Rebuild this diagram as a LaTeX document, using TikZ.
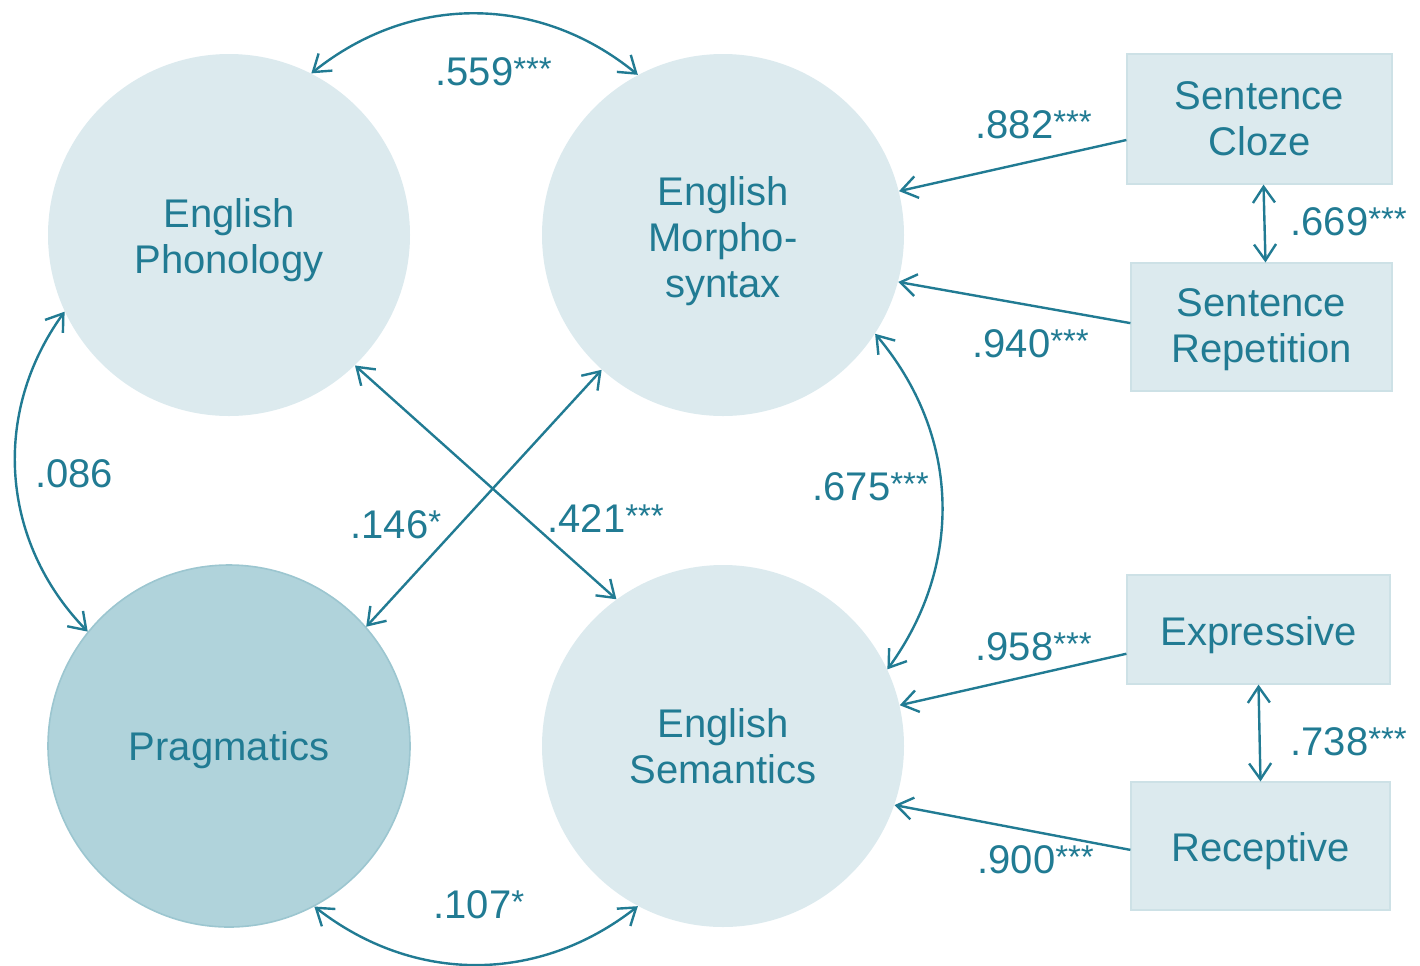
\documentclass[tikz,border=0pt]{standalone}
\usepackage{fontspec}
\setmainfont{Liberation Sans}
\usetikzlibrary{arrows.meta,calc}
\definecolor{tealtxt}{HTML}{217B93}
\definecolor{lightc}{HTML}{DCEAEE}
\definecolor{darkc}{HTML}{B0D3DB}
\definecolor{darkedge}{HTML}{9CC6D0}
\definecolor{boxedge}{HTML}{CDE1E6}
\newcommand\sigmark[1]{\raisebox{2.5pt}{\fontsize{16.5}{16.5}\selectfont #1}}
\begin{document}
\begin{tikzpicture}[x=0.5pt,y=-0.5pt,
  latent/.style={circle, fill=lightc, minimum size=181pt, inner sep=0pt},
  latentdark/.style={latent, fill=darkc, draw=darkedge, line width=0.8pt},
  obs/.style={rectangle, fill=lightc, draw=boxedge, line width=0.6pt, inner sep=0pt},
  ctext/.style={text=tealtxt, align=center, inner sep=0pt, font=\fontsize{20}{23}\selectfont},
  arr/.style={draw=tealtxt, line width=1.2pt, -{Straight Barb[length=8pt,width=11pt]}},
  darr/.style={draw=tealtxt, line width=1.2pt, {Straight Barb[length=8pt,width=11pt]}-{Straight Barb[length=8pt,width=11pt]}},
  lbl/.style={text=tealtxt, inner sep=0pt, anchor=base west, font=\fontsize{20}{23}\selectfont}
]
\path[use as bounding box] (0,0) rectangle (1420,965);

\node[latent, label={[ctext, yshift=-2.5pt]center:English\\Phonology}] (ph) at (229,235) {};
\node[latent, label={[ctext, yshift=-3pt]center:English\\Morpho-\\syntax}] (ms) at (723,235) {};
\node[latentdark, label={[ctext, yshift=-2pt]center:Pragmatics}] (pr) at (229,746) {};
\node[latent, label={[ctext]center:English\\Semantics}] (se) at (723,746) {};

\node[obs, minimum width=132.5pt, minimum height=65pt, label={[ctext]center:Sentence\\Cloze}] (sc) at (1259.5,119) {};
\node[obs, minimum width=130.5pt, minimum height=64pt, label={[ctext, yshift=-1.2pt]center:Sentence\\Repetition}] (sr) at (1261.5,327) {};
\node[obs, minimum width=131.5pt, minimum height=54.5pt, label={[ctext, yshift=-3pt]center:Expressive}] (ex) at (1258.5,629.5) {};
\node[obs, minimum width=129.5pt, minimum height=64pt, label={[ctext, yshift=-2.5pt]center:Receptive}] (re) at (1260.5,846) {};

% correlations between latent factors
\draw[darr] (ph.63.9) to[bend left=39] (ms.118.8);
\draw[darr] (ph.205.2) to[bend right=40] (pr.141.4);
\draw[darr] (pr.298.3) to[bend right=38] (se.242.9);
\draw[darr] (ms.-33) to[bend left=38] (se.25.8);
\draw[darr] (ph.-46.9) -- (se.126.7);
\draw[darr] (ms.228.6) -- (pr.41.9);

% loadings
\draw[arr] ($(sc.south west)!0.34!(sc.north west)$) -- (ms.14.5);
\draw[arr] ($(sr.south west)!0.53!(sr.north west)$) -- (ms.-15.1);
\draw[arr] ($(ex.south west)!0.28!(ex.north west)$) -- (se.13.1);
\draw[arr] ($(re.south west)!0.47!(re.north west)$) -- (se.-19.5);

% residual correlations
\draw[darr] ([xshift=2pt]sc.south) -- ([xshift=2pt]sr.north);
\draw[darr] (ex.south) -- (re.north);

% labels
\node[lbl] (l559) at (435,85) {.559\sigmark{***}};
\node[lbl] (l086) at (35,487) {.086};
\node[lbl] (l146) at (350,538) {.146\sigmark{*}};
\node[lbl] (l421) at (547,532) {.421\sigmark{***}};
\node[lbl] (l675) at (812,500) {.675\sigmark{***}};
\node[lbl] (l107) at (433,918) {.107\sigmark{*}};
\node[lbl] (l882) at (975,138) {.882\sigmark{***}};
\node[lbl] (l940) at (972,357) {.940\sigmark{***}};
\node[lbl] (l958) at (975,660) {.958\sigmark{***}};
\node[lbl] (l900) at (977,873) {.900\sigmark{***}};
\node[lbl] (l669) at (1290,235) {.669\sigmark{***}};
\node[lbl] (l738) at (1290,755) {.738\sigmark{***}};
\end{tikzpicture}
\end{document}
